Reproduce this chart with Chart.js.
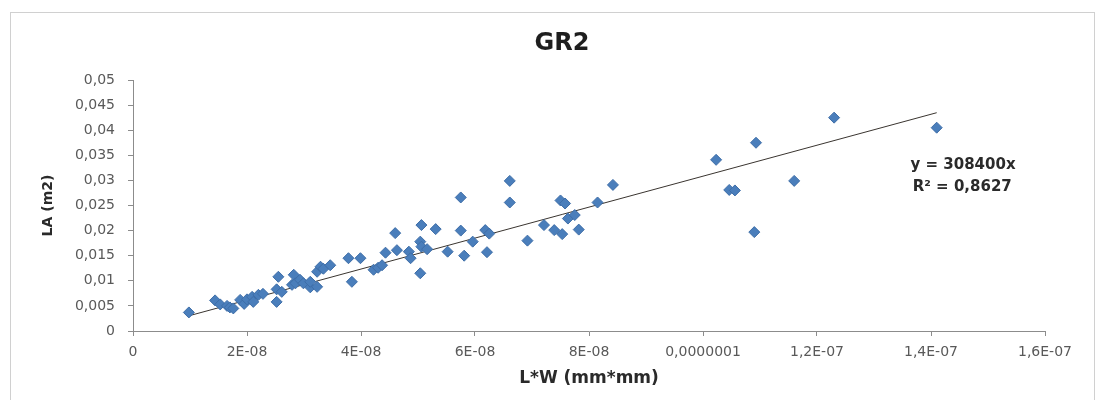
<!DOCTYPE html>
<html>
<head>
<meta charset="utf-8">
<script src="https://cdn.jsdelivr.net/npm/chart.js@4.4.1/dist/chart.umd.min.js"></script>
<style>
  html, body { margin: 0; padding: 0; background: #fff; }
  #wrap { width: 1101px; height: 400px; position: relative; }
</style>
</head>
<body>
<div id="wrap"><canvas id="gr2"></canvas></div>
<script>
// L*W (mm*mm) and LA (m2)
const lw = [
  9.8e-9, 14.4e-9, 15.3e-9, 16.5e-9, 17.0e-9, 17.6e-9, 18.8e-9, 19.5e-9, 20.0e-9, 20.9e-9,
  21.1e-9, 22.0e-9, 22.8e-9, 25.2e-9, 25.2e-9, 25.5e-9, 26.1e-9, 27.9e-9, 28.2e-9, 28.5e-9,
  29.3e-9, 29.9e-9, 31.1e-9, 31.1e-9, 32.3e-9, 32.3e-9, 32.9e-9, 33.4e-9, 34.6e-9, 37.8e-9,
  38.4e-9, 39.9e-9, 42.2e-9, 43.0e-9, 43.7e-9, 44.3e-9, 46.0e-9, 46.3e-9, 48.4e-9, 48.7e-9,
  50.4e-9, 50.4e-9, 50.6e-9, 50.6e-9, 51.6e-9, 53.1e-9, 55.2e-9, 57.5e-9, 57.5e-9, 58.1e-9,
  59.6e-9, 61.8e-9, 62.1e-9, 62.5e-9, 66.1e-9, 66.1e-9, 69.2e-9, 72.1e-9, 73.9e-9, 75.0e-9,
  75.3e-9, 75.8e-9, 76.3e-9, 77.5e-9, 78.2e-9, 81.5e-9, 84.2e-9, 102.3e-9, 104.6e-9, 105.6e-9,
  109.0e-9, 109.3e-9, 116.0e-9, 123.0e-9, 141.0e-9
]
const la = [
  0.0037, 0.0061, 0.0053, 0.0050, 0.0047, 0.0045, 0.0062, 0.0054, 0.0063, 0.0068,
  0.0058, 0.0072, 0.0074, 0.0058, 0.0083, 0.0108, 0.0078, 0.0092, 0.0112, 0.0095,
  0.0102, 0.0095, 0.0087, 0.0098, 0.0088, 0.0118, 0.0128, 0.0124, 0.0131, 0.0145,
  0.0098, 0.0145, 0.0122, 0.0126, 0.0131, 0.0156, 0.0195, 0.0161, 0.0158, 0.0145,
  0.0115, 0.0178, 0.0168, 0.0211, 0.0163, 0.0203, 0.0158, 0.0266, 0.0200, 0.0150,
  0.0178, 0.0201, 0.0157, 0.0194, 0.0299, 0.0256, 0.0180, 0.0211, 0.0201, 0.0260,
  0.0193, 0.0254, 0.0224, 0.0231, 0.0202, 0.0256, 0.0291, 0.0341, 0.0281, 0.0280,
  0.0197, 0.0375, 0.0299, 0.0425, 0.0405
]

const xTickLabels = ['0', '2E-08', '4E-08', '6E-08', '8E-08', '0,0000001', '1,2E-07', '1,4E-07', '1,6E-07']
const yTickLabels = ['0', '0,005', '0,01', '0,015', '0,02', '0,025', '0,03', '0,035', '0,04', '0,045', '0,05']

const chartTitle = 'GR2'
const slope = 308400
const eqLines = ['y = 308400x', 'R\u00b2 = 0,8627']

const points = lw.map((v, i) => ({x: v, y: la[i]}))
const xMin = Math.min(...lw)
const xMax = Math.max(...lw)
const trend = [{x: xMin, y: slope * xMin}, {x: xMax, y: slope * xMax}]

const decor = {
  id: 'decor',
  beforeDraw(chart) {
    const c = chart.ctx
    c.save()
    c.fillStyle = '#fff'
    c.fillRect(0, 0, chart.width, chart.height)
    c.strokeStyle = '#d0d0d0'
    c.lineWidth = 1
    c.strokeRect(10.5, 12.5, 1084, 400)
    c.restore()
  },
  afterDraw(chart) {
    const c = chart.ctx
    const xs = chart.scales.x, ys = chart.scales.y
    c.save()
    c.fillStyle = '#1e1e1e'
    c.font = 'bold 24px "DejaVu Sans"'
    c.textAlign = 'center'
    c.textBaseline = 'middle'
    c.fillText(chartTitle, 562, 44)
    c.fillStyle = '#2a2a2a'
    c.font = 'bold 15px "DejaVu Sans"'
    c.textAlign = 'left'
    c.fillText(eqLines[0], xs.getPixelForValue(1.364e-7), ys.getPixelForValue(0.0331))
    c.fillText(eqLines[1], xs.getPixelForValue(1.368e-7), ys.getPixelForValue(0.0287))
    c.restore()
  }
}

new Chart(document.getElementById('gr2'), {
  type: 'scatter',
  data: {
    datasets: [
      {
        data: points,
        pointStyle: 'rectRot',
        pointRadius: 5.5,
        backgroundColor: '#4A7EBB',
        borderColor: '#3E6EA8',
        borderWidth: 1
      },
      {
        type: 'line',
        data: trend,
        borderColor: '#3a3530',
        borderWidth: 1,
        pointRadius: 0,
        fill: false
      }
    ]
  },
  options: {
    responsive: true,
    maintainAspectRatio: false,
    animation: false,
    layout: {padding: {left: 40, right: 56, top: 80, bottom: 11}},
    plugins: {legend: {display: false}, tooltip: {enabled: false}},
    scales: {
      x: {
        type: 'linear',
        min: 0,
        max: 1.6e-7,
        afterFit(s) { s.height = 58 },
        border: {color: '#8c8c8c'},
        grid: {drawOnChartArea: false, tickLength: 5, color: '#8c8c8c'},
        ticks: {
          stepSize: 2e-8,
          padding: 8,
          color: '#595959',
          font: {family: 'DejaVu Sans', size: 14},
          maxRotation: 0,
          callback: (v, i) => xTickLabels[i]
        },
        title: {
          display: true,
          text: 'L*W (mm*mm)',
          color: '#2a2a2a',
          font: {family: 'DejaVu Sans', size: 17, weight: 'bold'},
          padding: 0
        }
      },
      y: {
        min: 0,
        max: 0.05,
        afterFit(s) { s.width = 93 },
        border: {color: '#8c8c8c'},
        grid: {drawOnChartArea: false, tickLength: 5, color: '#8c8c8c'},
        ticks: {
          stepSize: 0.005,
          padding: 13,
          color: '#595959',
          font: {family: 'DejaVu Sans', size: 14},
          callback: (v, i) => yTickLabels[i]
        },
        title: {
          display: true,
          text: 'LA (m2)',
          color: '#2a2a2a',
          font: {family: 'DejaVu Sans', size: 14, weight: 'bold'},
          padding: 0
        }
      }
    }
  },
  plugins: [decor]
})
</script>
</body>
</html>
